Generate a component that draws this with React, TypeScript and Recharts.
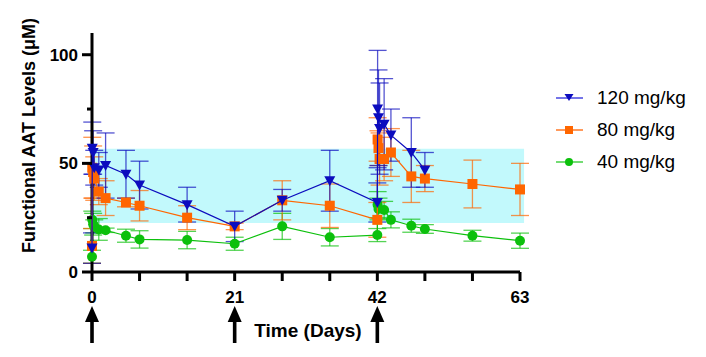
import React from "react";
import {
  ScatterChart,
  Scatter,
  XAxis,
  YAxis,
  ErrorBar,
  ReferenceArea,
  Legend,
} from "recharts";

// sampling times (days)
const times120 = [0, 0.04, 0.17, 0.33, 1, 2, 5, 7, 14, 21, 28, 35, 42, 42.04, 42.17, 42.33, 43, 44, 47, 49];
const times80 = [0, 0.04, 0.17, 0.33, 1, 2, 5, 7, 14, 21, 28, 35, 42, 42.04, 42.17, 42.33, 43, 44, 47, 49, 56, 63];
const times40 = [0, 0.04, 0.17, 0.33, 1, 2, 5, 7, 14, 21, 28, 35, 42, 42.04, 42.17, 43, 44, 47, 49, 56, 63];

// mean functional AAT (uM)
const mean120 = [11, 57, 55, 48, 47, 49, 45, 40, 31, 21, 33, 42, 32, 75, 71, 66, 68, 63, 55, 47];
const mean80 = [12, 48, 46, 43, 37, 34, 32, 30.5, 25, 21, 33, 30.5, 24, 61, 57, 52, 52, 55, 44, 43, 40.5, 38];
const mean40 = [7, 24, 22, 21, 19.6, 19.2, 16.7, 15, 14.7, 13, 21, 16, 17, 31, 29, 28.5, 24, 21.3, 19.8, 16.7, 14.4];

// error (SD)
const sd120 = [7, 12, 10, 8, 8, 15, 11, 11, 8, 7, 5, 14, 9, 27, 22, 21, 21, 12, 16, 8];
const sd80 = [8, 14, 12, 10, 6, 8, 2, 7, 5.5, 1.5, 9, 10, 8, 10, 8, 12, 10, 11, 12, 6, 11, 12];
const sd40 = [3, 4, 5, 3, 5, 1, 3, 4, 4, 3, 6, 4, 3, 6, 5, 4, 3.7, 3, 2, 2.5, 3.5];

const xTicks = [0, 7, 14, 21, 28, 35, 42, 49, 56, 63];
const xLabels = [0, 21, 42, 63];
const doseDays = [0, 21, 42];
const yTicks = [0, 25, 50, 75, 100];
const yLabels = [0, 50, 100];
const normalRange = [22.5, 56.7];

const BLUE = "#0c0cbe";
const ORANGE = "#ff6600";
const GREEN = "#0cc00c";
const FONT = "'Liberation Sans', Arial, sans-serif";

const toRows = (t: number[], m: number[], s: number[]) =>
  t.map((x, i) => ({ x, y: m[i], sd: s[i] }));

const data120 = toRows(times120, mean120, sd120);
const data80 = toRows(times80, mean80, sd80);
const data40 = toRows(times40, mean40, sd40);

const TriDown = (p: any) => (
  <polygon
    points={`${p.cx - 5.5},${p.cy - 4.5} ${p.cx + 5.5},${p.cy - 4.5} ${p.cx},${p.cy + 5.5}`}
    fill={BLUE}
  />
);
const Sq = (p: any) => <rect x={p.cx - 5} y={p.cy - 5} width={10} height={10} fill={ORANGE} />;
const Dot = (p: any) => <circle cx={p.cx} cy={p.cy} r={5} fill={GREEN} />;

const XTick = (p: any) => {
  const v = p.payload.value;
  return (
    <g>
      <line x1={p.x} x2={p.x} y1={p.y} y2={p.y + 9} stroke="#000" strokeWidth={3} />
      {xLabels.includes(v) && (
        <text x={p.x} y={p.y + 31} textAnchor="middle" fontSize={17} fontWeight="bold" fontFamily={FONT}>
          {v}
        </text>
      )}
      {doseDays.includes(v) && (
        <g>
          <polygon points={`${p.x},${p.y + 34} ${p.x - 7},${p.y + 50} ${p.x + 7},${p.y + 50}`} fill="#000" />
          <rect x={p.x - 1.8} y={p.y + 48} width={3.6} height={23} fill="#000" />
        </g>
      )}
    </g>
  );
};

const YTick = (p: any) => {
  const v = p.payload.value;
  const major = yLabels.includes(v);
  return (
    <g>
      <line x1={p.x} x2={p.x - (major ? 10 : 5)} y1={p.y} y2={p.y} stroke="#000" strokeWidth={3} />
      {major && (
        <text x={p.x - 14} y={p.y + 6} textAnchor="end" fontSize={17} fontWeight="bold" fontFamily={FONT}>
          {v}
        </text>
      )}
    </g>
  );
};

const YLabel = (p: any) => {
  const vb = p.viewBox;
  const cx = vb.x + 29;
  const cy = vb.y + vb.height / 2 - 17;
  return (
    <text
      x={cx}
      y={cy}
      transform={`rotate(-90 ${cx} ${cy})`}
      textAnchor="middle"
      dominantBaseline="central"
      fontSize={18}
      fontWeight="bold"
      fontFamily={FONT}
    >
      Functional AAT Levels (μM)
    </text>
  );
};

const legendItems = [
  { name: "120 mg/kg", color: BLUE, line: "#7474e8", shape: "tri" },
  { name: "80 mg/kg", color: ORANGE, line: "#ff9a5c", shape: "sq" },
  { name: "40 mg/kg", color: GREEN, line: "#74dc74", shape: "dot" },
];

const renderLegend = () => (
  <div style={{ fontFamily: FONT }}>
    {legendItems.map((it) => (
      <div key={it.name} style={{ display: "flex", alignItems: "center", height: 32 }}>
        <svg width={44} height={20}>
          <line x1={3} x2={30} y1={10} y2={10} stroke={it.line} strokeWidth={2} />
          {it.shape === "tri" && <polygon points="11.5,6 20.5,6 16,13" fill={it.color} />}
          {it.shape === "sq" && <rect x={12} y={6} width={8} height={8} fill={it.color} />}
          {it.shape === "dot" && <circle cx={16} cy={10} r={4} fill={it.color} />}
        </svg>
        <span style={{ fontSize: 19, color: "#000", lineHeight: "20px" }}>{it.name}</span>
      </div>
    ))}
  </div>
);

export default function App() {
  return (
    <div style={{ position: "absolute", left: 0, top: 0, background: "#fff" }}>
      <ScatterChart width={706} height={357} margin={{ top: 33, right: 186, left: 0, bottom: 0 }}>
        <XAxis
          type="number"
          dataKey="x"
          domain={[0, 63]}
          ticks={xTicks}
          interval={0}
          height={85}
          stroke="#000"
          strokeWidth={3}
          tickLine={false}
          tickSize={0}
          tickMargin={0}
          tick={<XTick />}
          label={{
            value: "Time (Days)",
            position: "insideBottom",
            offset: 20,
            fontSize: 19,
            fontWeight: "bold",
            fill: "#000",
            fontFamily: FONT,
            dx: 2,
          }}
        />
        <YAxis
          type="number"
          dataKey="y"
          domain={[0, 110]}
          ticks={yTicks}
          interval={0}
          width={92}
          stroke="#000"
          strokeWidth={3}
          tickLine={false}
          tickSize={0}
          tickMargin={0}
          tick={<YTick />}
          label={{ content: <YLabel /> }}
        />
        <ReferenceArea
          x1={0}
          x2={63.6}
          y1={normalRange[0]}
          y2={normalRange[1]}
          fill="#c2f9fc"
          fillOpacity={1}
          stroke="none"
          ifOverflow="visible"
        />
        <Scatter
          name="40 mg/kg"
          data={data40}
          shape={<Dot />}
          line={{ stroke: GREEN, strokeWidth: 1.2 }}
          lineType="joint"
          isAnimationActive={false}
        >
          <ErrorBar dataKey="sd" direction="y" width={9} stroke={GREEN} strokeOpacity={0.7} strokeWidth={1.3} />
        </Scatter>
        <Scatter
          name="80 mg/kg"
          data={data80}
          shape={<Sq />}
          line={{ stroke: ORANGE, strokeWidth: 1.2 }}
          lineType="joint"
          isAnimationActive={false}
        >
          <ErrorBar dataKey="sd" direction="y" width={9} stroke={ORANGE} strokeOpacity={0.7} strokeWidth={1.3} />
        </Scatter>
        <Scatter
          name="120 mg/kg"
          data={data120}
          shape={<TriDown />}
          line={{ stroke: BLUE, strokeWidth: 1.2 }}
          lineType="joint"
          isAnimationActive={false}
        >
          <ErrorBar dataKey="sd" direction="y" width={9} stroke={BLUE} strokeOpacity={0.7} strokeWidth={1.3} />
        </Scatter>
        <Legend
          layout="vertical"
          align="center"
          verticalAlign="middle"
          content={renderLegend}
          wrapperStyle={{ position: "absolute", left: 553, top: 82, width: 153 }}
        />
      </ScatterChart>
    </div>
  );
}
